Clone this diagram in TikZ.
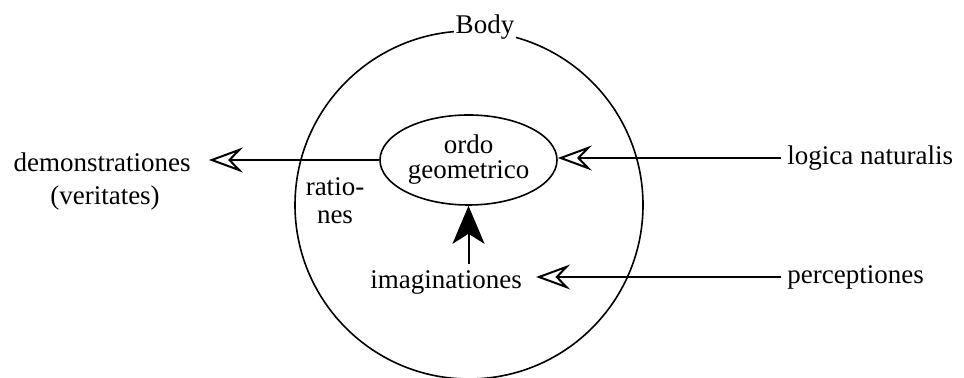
\documentclass[tikz,border=0pt]{standalone}
\usepackage{fontspec}
\setmainfont{Liberation Serif}
\usetikzlibrary{arrows.meta,shapes.geometric}
\tikzset{
  lbl/.style={font=\fontsize{13.5}{13}\selectfont, inner sep=3pt},
  openarrow/.style={-{Stealth[open,length=17pt,width=12.5pt,inset=6pt]}, line width=1pt},
  fullarrow/.style={-{Stealth[length=19pt,width=16pt,inset=5pt]}, line width=1pt}
}
\begin{document}
\begin{tikzpicture}[x=0.5pt,y=-0.5pt]
    \useasboundingbox (0,0) rectangle (964,378);
    \coordinate (C) at (469,205);
    \draw[line width=0.8pt] (C) circle [radius=87pt];
    \node[lbl, fill=white, inner sep=1pt] (body) at (485,27) {Body};
    \node[lbl, draw, line width=0.8pt, ellipse, minimum width=88.5pt,
      minimum height=45pt, inner sep=0pt, align=center] (ordo) at (468.5,160)
      {ordo\\[-0.5pt]geometrico};
    \node[lbl] (demo) at (102,162) {demonstrationes};
    \node[lbl] (verit) at (105,198) {(veritates)};
    \node[lbl, align=center] (ratio) at (335,201) {ratio-\\[1pt]nes};
    \node[lbl] (imag) at (446,282) {imaginationes};
    \node[lbl, anchor=west] (logica) at (781,158) {logica naturalis};
    \node[lbl, anchor=west] (percep) at (781,277) {perceptiones};
    \begin{scope}[openarrow]
      \draw (ordo.west) -- ([xshift=6pt]demo.east |- ordo.west);
      \draw (logica.west) -- (ordo.east |- logica.west);
      \draw (percep.west) -- ([xshift=4pt]imag.east |- percep.west);
    \end{scope}
    \draw[fullarrow] (ordo.south |- imag.north) -- (ordo.south);
  \end{tikzpicture}
\end{document}
